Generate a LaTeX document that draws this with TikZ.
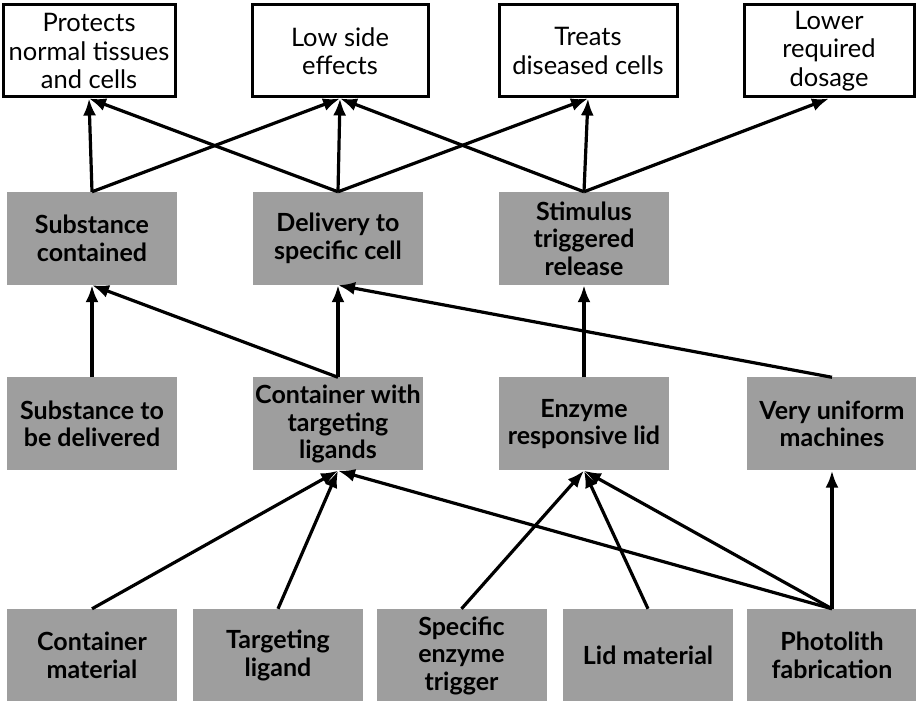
\documentclass[tikz,border=0pt]{standalone}
\usepackage{fontspec}
\setmainfont{Lato}
\usetikzlibrary{arrows.meta}

\begin{document}
\begin{tikzpicture}[x=1pt,y=1pt,
	goal/.style={draw, line width=3pt, fill=white, align=center, minimum height=92pt,
		inner sep=0pt, font=\fontsize{25.5}{28.5}\selectfont},
	feat/.style={fill=black!38, align=center, minimum width=170pt, minimum height=93pt,
		inner sep=0pt, font=\bfseries\fontsize{25}{27.5}\selectfont},
	link/.style={-{Latex[length=17pt,width=13pt]}, line width=3.2pt}]
	
	\useasboundingbox (0,0) rectangle (916,701);
	
	% Objetivos
	\node[goal, minimum width=172pt] (prot) at (89,650) {Protects\\normal tissues\\and cells};
	\node[goal, minimum width=176pt] (side) at (340,650) {Low side\\effects};
	\node[goal, minimum width=178pt] (treat) at (588,650) {Treats\\diseased cells};
	\node[goal, minimum width=170pt] (dose) at (829,650) {Lower\\required\\dosage};
	
	% Propiedades
	\node[feat] (cont) at (92,462.5) {Substance\\contained};
	\node[feat] (deliv) at (338,462.5) {Delivery to\\specific cell};
	\node[feat] (stim) at (584,462.5) {Stimulus\\triggered\\release};
	
	% Componentes
	\node[feat] (subst) at (92,277) {Substance to\\be delivered};
	\node[feat] (ligs) at (338,277) {Container with\\targeting\\ligands};
	\node[feat] (enz) at (584,277) {Enzyme\\responsive lid};
	\node[feat] (unif) at (832,277) {Very uniform\\machines};
	
	% Materiales
	\node[feat] (cmat) at (92,45.5) {Container\\material};
	\node[feat] (tlig) at (278,45.5) {Targeting\\ligand};
	\node[feat] (trig) at (461.5,45.5) {Specific\\enzyme\\trigger};
	\node[feat] (lmat) at (648,45.5) {Lid material};
	\node[feat] (photo) at (832,45.5) {Photolith\\fabrication};
	
	% Flechas superiores
	\draw[link] (cont.north) -- (prot.south);
	\draw[link] (cont.north) -- (side.south);
	\draw[link] (deliv.north) -- (prot.south);
	\draw[link] (deliv.north) -- (side.south);
	\draw[link] (deliv.north) -- (treat.south);
	\draw[link] (stim.north) -- (side.south);
	\draw[link] (stim.north) -- (treat.south);
	\draw[link] (stim.north) -- (dose.south);
	
	% Flechas intermedias
	\draw[link] (subst.north) -- (cont.south);
	\draw[link] (ligs.north) -- (cont.south);
	\draw[link] (ligs.north) -- (deliv.south);
	\draw[link] (unif.north) -- (deliv.south);
	\draw[link] (enz.north) -- (stim.south);
	
	% Flechas inferiores
	\draw[link] (cmat.north) -- (ligs.south);
	\draw[link] (tlig.north) -- (ligs.south);
	\draw[link] (trig.north) -- (enz.south);
	\draw[link] (lmat.north) -- (enz.south);
	\draw[link] (photo.north) -- (enz.south);
	\draw[link] (photo.north) -- (ligs.south);
	\draw[link] (photo.north) -- (unif.south);
	
\end{tikzpicture}
\end{document}
